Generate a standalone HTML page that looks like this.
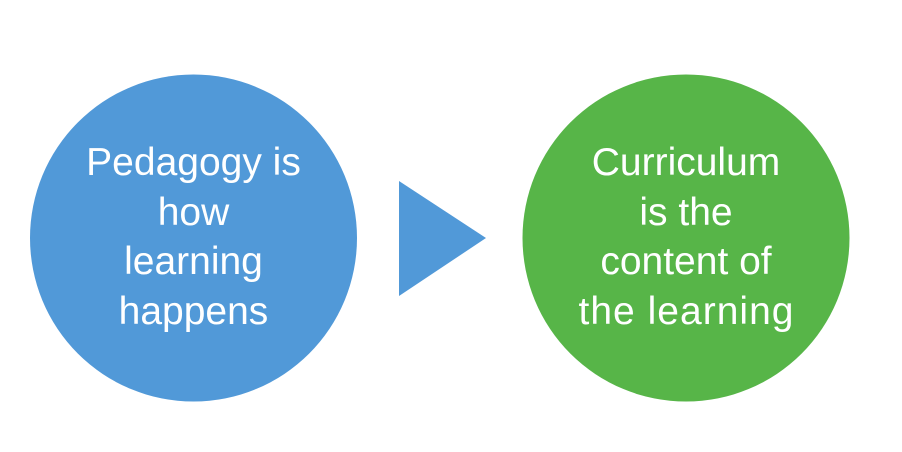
<!DOCTYPE html>
<html><head><style>html,body{margin:0;padding:0;background:#fff;}</style></head>
<body>
<svg width="902" height="452" xmlns="http://www.w3.org/2000/svg" style="display:block">
<rect width="902" height="452" fill="#fff"/>
<circle cx="193.5" cy="238" r="163.5" fill="#5199d8"/>
<circle cx="686" cy="238" r="163.5" fill="#57b548"/>
<polygon points="399,181 486,238 399,296" fill="#5199d8"/>
<g font-family="Liberation Sans, sans-serif" font-size="39" fill="#fff" text-anchor="middle">
<text x="193.5" y="175">Pedagogy is</text>
<text x="193.5" y="225">how</text>
<text x="193.5" y="274">learning</text>
<text x="193.5" y="324">happens</text>
<text x="686" y="175">Curriculum</text>
<text x="686" y="225">is the</text>
<text x="686" y="274">content of</text>
<text x="686" y="324" textLength="215">the learning</text>
</g>
</svg>
</body></html>
